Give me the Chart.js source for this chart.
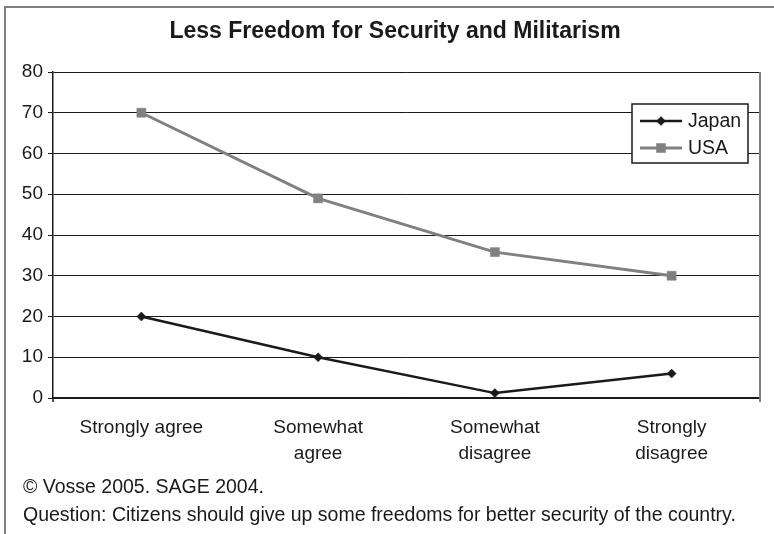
<!DOCTYPE html>
<html>
<head>
<meta charset="utf-8">
<script src="https://cdn.jsdelivr.net/npm/chart.js@4/dist/chart.umd.min.js"></script>
<style>
html,body{margin:0;padding:0;background:#fff;}
#wrap{width:774px;height:534px;position:relative;}
</style>
</head>
<body>
<div id="wrap"><canvas id="c" width="774" height="534"></canvas></div>
<script>
const categories = ["Strongly agree", ["Somewhat", "agree"], ["Somewhat", "disagree"], ["Strongly", "disagree"]];
const japanValues = [20, 10, 1.2, 6];
const usaValues = [70, 49, 35.8, 30];
const yTicks = [0, 10, 20, 30, 40, 50, 60, 70, 80];
const titleText = "Less Freedom for Security and Militarism";
const footerLines = ["\u00A9 Vosse 2005. SAGE 2004.", "Question: Citizens should give up some freedoms for better security of the country."];

const FONT = "'Liberation Sans', Arial, sans-serif";
const INK = "#1a1a1a";
const GRAY = "#808080";

const decor = {
  id: 'decor',
  beforeDraw(chart) {
    const ctx = chart.ctx;
    ctx.save();
    ctx.fillStyle = '#fff';
    ctx.fillRect(0, 0, chart.width, chart.height);
    ctx.strokeStyle = GRAY;
    ctx.lineWidth = 2;
    ctx.strokeRect(5, 7, 900, 700);
    ctx.restore();
  },
  afterDraw(chart) {
    const ctx = chart.ctx;
    const a = chart.chartArea;
    ctx.save();
    // right border of plot area
    ctx.strokeStyle = GRAY;
    ctx.lineWidth = 2;
    ctx.beginPath();
    ctx.moveTo(a.right, a.top);
    ctx.lineTo(a.right, a.bottom + 4);
    ctx.stroke();
    // left axis small extension below zero
    ctx.strokeStyle = INK;
    ctx.lineWidth = 1.5;
    ctx.beginPath();
    ctx.moveTo(a.left, a.bottom);
    ctx.lineTo(a.left, a.bottom + 4);
    ctx.stroke();
    // title
    ctx.fillStyle = INK;
    ctx.font = "bold 23px " + FONT;
    ctx.textAlign = 'center';
    ctx.textBaseline = 'middle';
    ctx.fillText(titleText, 395, 32);
    // footer
    ctx.font = "19.5px " + FONT;
    ctx.textAlign = 'left';
    footerLines.forEach((t, i) => ctx.fillText(t, 23, 488 + i * 28));
    // legend
    const lx = 632, ly = 104, lw = 116, lh = 59;
    ctx.fillStyle = '#fff';
    ctx.fillRect(lx, ly, lw, lh);
    ctx.strokeStyle = INK;
    ctx.lineWidth = 1.5;
    ctx.strokeRect(lx, ly, lw, lh);
    chart.data.datasets.forEach((ds, i) => {
      const y = ly + 17 + i * 27;
      ctx.strokeStyle = ds.borderColor;
      ctx.lineWidth = ds.borderWidth;
      ctx.beginPath();
      ctx.moveTo(lx + 8, y);
      ctx.lineTo(lx + 50, y);
      ctx.stroke();
      ctx.fillStyle = ds.pointBackgroundColor;
      ctx.strokeStyle = ds.pointBackgroundColor;
      ctx.lineWidth = 0.5;
      Chart.helpers.drawPoint(ctx, {pointStyle: ds.pointStyle, radius: ds.pointRadius, borderWidth: 0.5, rotation: 0}, lx + 29, y);
      ctx.fillStyle = INK;
      ctx.font = "19.5px " + FONT;
      ctx.textAlign = 'left';
      ctx.textBaseline = 'middle';
      ctx.fillText(ds.label, lx + 56, y + 1);
    });
    ctx.restore();
  }
};

new Chart(document.getElementById('c'), {
  type: 'line',
  data: {
    labels: categories,
    datasets: [
      {
        label: 'Japan',
        data: japanValues,
        borderColor: INK,
        backgroundColor: INK,
        pointBackgroundColor: INK,
        pointBorderColor: INK,
        borderWidth: 2.5,
        pointStyle: 'rectRot',
        pointRadius: 4.5,
        pointBorderWidth: 0.5,
        tension: 0
      },
      {
        label: 'USA',
        data: usaValues,
        borderColor: GRAY,
        backgroundColor: GRAY,
        pointBackgroundColor: GRAY,
        pointBorderColor: GRAY,
        borderWidth: 3,
        pointStyle: 'rect',
        pointRadius: 6.4,
        pointBorderWidth: 0.5,
        tension: 0
      }
    ]
  },
  options: {
    responsive: false,
    animation: false,
    devicePixelRatio: 1,
    layout: { padding: { left: 0, top: 72, right: 14, bottom: 0 } },
    plugins: {
      legend: { display: false },
      title: { display: false },
      tooltip: { enabled: false }
    },
    scales: {
      x: {
        type: 'category',
        offset: true,
        afterFit(scale) { scale.height = 136; },
        grid: {
          display: false,
          drawTicks: false
        },
        border: { color: INK, width: 1.5 },
        ticks: {
          color: INK,
          padding: 17,
          maxRotation: 0,
          autoSkip: false,
          font: { family: FONT, size: 19, lineHeight: 1.35 }
        }
      },
      y: {
        min: 0,
        max: 80,
        afterFit(scale) { scale.width = 53; },
        afterBuildTicks(scale) { scale.ticks = yTicks.map(v => ({ value: v })); },
        grid: {
          color: INK,
          lineWidth: 1,
          tickLength: 5,
          drawTicks: true
        },
        border: { color: INK, width: 1.5 },
        ticks: {
          color: INK,
          padding: 5,
          font: { family: FONT, size: 19 }
        }
      }
    }
  },
  plugins: [decor]
});
</script>
</body>
</html>
